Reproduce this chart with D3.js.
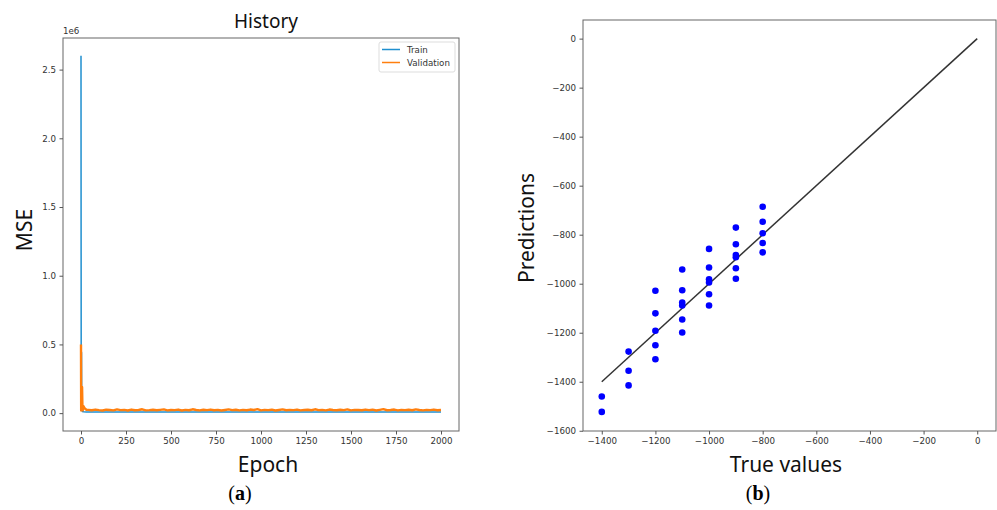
<!DOCTYPE html>
<html>
<head>
<meta charset="utf-8">
<script src="https://cdn.jsdelivr.net/npm/d3@7"></script>
<style>
  body { margin: 0; background: #fff; }
  svg { display: block; }
  .tick text { font-family: "DejaVu Sans", sans-serif; font-size: 8.7px; fill: #333; }
  .tick line { stroke: #555; }
  .lbl { font-family: "Noto Sans", sans-serif; fill: #111; }
  .cap { font-family: "Liberation Serif", serif; font-size: 20px; fill: #000; }
</style>
</head>
<body>
<svg id="chart" width="997" height="510"></svg>
<script>
// ---- panel (a): training history, MSE in units of 1e6 ----
let trainEpoch = [0, 1, 3, 4, 5, 8, 15, 30, 100, 500, 1000, 1500, 2000],
    trainMse = [2.6, 0.45, 0.44, 0.06, 0.02, 0.012, 0.010, 0.009, 0.0085, 0.008, 0.0078, 0.0076, 0.0075];

let valEarlyEpoch = [0, 1, 2, 4, 6, 8, 10, 14, 20, 30],
    valEarlyMse = [0.5, 0.02, 0.03, 0.06, 0.19, 0.04, 0.02, 0.05, 0.035, 0.025];

// validation loss sampled every 20 epochs from 40 to 2000
let valMse = [
  0.024,0.021,0.026,0.022,0.019,0.025,0.023,0.020,0.027,0.022,
  0.024,0.019,0.026,0.021,0.023,0.028,0.020,0.022,0.025,0.021,
  0.024,0.027,0.020,0.023,0.022,0.026,0.019,0.024,0.021,0.028,
  0.023,0.020,0.025,0.022,0.026,0.021,0.024,0.019,0.023,0.027,
  0.022,0.025,0.020,0.024,0.021,0.026,0.023,0.029,0.020,0.024,
  0.022,0.025,0.019,0.023,0.027,0.021,0.024,0.022,0.026,0.020,
  0.023,0.025,0.021,0.028,0.022,0.024,0.020,0.026,0.023,0.021,
  0.025,0.022,0.027,0.020,0.024,0.023,0.021,0.026,0.022,0.025,
  0.019,0.024,0.029,0.021,0.023,0.026,0.020,0.024,0.022,0.025,
  0.021,0.027,0.023,0.020,0.024,0.022,0.026,0.021,0.023
];

let epochTicks = [0, 250, 500, 750, 1000, 1250, 1500, 1750, 2000],
    mseTicks = [0, 0.5, 1.0, 1.5, 2.0, 2.5],
    legendNames = ["Train", "Validation"];

// ---- panel (b): predictions vs true values ----
let trueVals = [
  -1400, -1400,
  -1300, -1300, -1300,
  -1200, -1200, -1200, -1200, -1200,
  -1100, -1100, -1100, -1100, -1100, -1100,
  -1000, -1000, -1000, -1000, -1000, -1000,
  -900, -900, -900, -900, -900, -900,
  -800, -800, -800, -800, -800
];
let predVals = [
  -1460, -1523,
  -1277, -1355, -1415,
  -1029, -1121, -1192, -1251, -1308,
  -942, -1027, -1077, -1089, -1146, -1199,
  -858, -934, -982, -995, -1043, -1089,
  -771, -839, -883, -892, -937, -980,
  -686, -747, -794, -834, -872
];
let idealLine = [-1400, 0],
    trueTicks = [-1400, -1200, -1000, -800, -600, -400, -200, 0],
    predTicks = [-1600, -1400, -1200, -1000, -800, -600, -400, -200, 0];

let colors = {train: "#1f8fcf", val: "#ff7f0e"};
let svg = d3.select("#chart");
let fmtMinus = d => d3.format("d")(d).replace("-", "\u2212");

function box(g, x, y) {
  let [x0, x1] = x.range(), [y0, y1] = y.range();
  g.append("rect")
    .attr("x", x0).attr("y", y1)
    .attr("width", x1 - x0).attr("height", y0 - y1)
    .attr("fill", "none").attr("stroke", "#666").attr("stroke-width", 1);
}

function axes(g, x, y, xt, yt, xf, yf) {
  g.append("g")
    .attr("transform", `translate(0,${y.range()[0]})`)
    .call(d3.axisBottom(x).tickValues(xt).tickFormat(xf).tickSize(3.5).tickPadding(3.5))
    .call(a => a.select(".domain").remove());
  g.append("g")
    .attr("transform", `translate(${x.range()[0]},0)`)
    .call(d3.axisLeft(y).tickValues(yt).tickFormat(yf).tickSize(3.5).tickPadding(3.5))
    .call(a => a.select(".domain").remove());
}

function drawHistory() {
  let x = d3.scaleLinear().domain([-100, 2100]).range([63, 459]),
      y = d3.scaleLinear().domain([-0.13, 2.73]).range([431, 38]);
  let g = svg.append("g");

  let line = d3.line().x(d => x(d[0])).y(d => y(d[1]));
  let train = trainEpoch.map((e, i) => [e, trainMse[i]]);
  let val = valEarlyEpoch.map((e, i) => [e, valEarlyMse[i]])
    .concat(valMse.map((v, i) => [40 + i * 20, v]));

  g.append("path").datum(train).attr("d", line)
    .attr("fill", "none").attr("stroke", colors.train).attr("stroke-width", 1.5);
  g.append("path").datum(val).attr("d", line)
    .attr("fill", "none").attr("stroke", colors.val).attr("stroke-width", 2.4)
    .attr("stroke-linejoin", "round");

  box(g, x, y);
  axes(g, x, y, epochTicks, mseTicks, d3.format("d"), d3.format(".1f"));

  g.append("text").attr("x", 63).attr("y", 34)
    .style("font-family", "DejaVu Sans").style("font-size", "8.7px").style("fill", "#333")
    .text("1e6");

  g.append("text").attr("class", "lbl")
    .attr("x", 266).attr("y", 28).attr("text-anchor", "middle")
    .style("font-size", "19px").text("History");
  g.append("text").attr("class", "lbl")
    .attr("x", 268).attr("y", 472).attr("text-anchor", "middle")
    .style("font-size", "21px").text("Epoch");
  g.append("text").attr("class", "lbl")
    .attr("transform", "translate(32,230) rotate(-90)").attr("text-anchor", "middle")
    .style("font-size", "21px").text("MSE");

  // legend
  let lg = g.append("g").attr("transform", "translate(379,42)");
  lg.append("rect").attr("width", 76).attr("height", 30).attr("rx", 2)
    .attr("fill", "#fff").attr("stroke", "#ddd");
  legendNames.forEach((n, i) => {
    lg.append("line")
      .attr("x1", 3).attr("x2", 21).attr("y1", 7.5 + i * 13).attr("y2", 7.5 + i * 13)
      .attr("stroke", i ? colors.val : colors.train).attr("stroke-width", 1.5);
    lg.append("text").attr("x", 28).attr("y", 10.5 + i * 13)
      .style("font-family", "DejaVu Sans").style("font-size", "8.7px").style("fill", "#333")
      .text(n);
  });

  g.append("text").attr("class", "cap").attr("x", 240).attr("y", 500).attr("text-anchor", "middle")
    .html("(<tspan font-weight='bold'>a</tspan>)");
}

function drawScatter() {
  let x = d3.scaleLinear().domain([-1470, 70]).range([583, 996]),
      y = d3.scaleLinear().domain([-1601, 76]).range([431, 20]);
  let g = svg.append("g");

  g.append("line")
    .attr("x1", x(idealLine[0])).attr("y1", y(idealLine[0]))
    .attr("x2", x(idealLine[1])).attr("y2", y(idealLine[1]))
    .attr("stroke", "#333").attr("stroke-width", 1.5);

  g.selectAll("circle").data(trueVals).enter()
    .append("circle")
    .attr("cx", d => x(d))
    .attr("cy", (d, i) => y(predVals[i]))
    .attr("r", 3.3)
    .attr("fill", "#0000ff");

  box(g, x, y);
  axes(g, x, y, trueTicks, predTicks, fmtMinus, fmtMinus);

  g.append("text").attr("class", "lbl")
    .attr("x", 786).attr("y", 472).attr("text-anchor", "middle")
    .style("font-size", "21px").text("True values");
  g.append("text").attr("class", "lbl")
    .attr("transform", "translate(534,228) rotate(-90)").attr("text-anchor", "middle")
    .style("font-size", "21px").text("Predictions");

  g.append("text").attr("class", "cap").attr("x", 758).attr("y", 500).attr("text-anchor", "middle")
    .html("(<tspan font-weight='bold'>b</tspan>)");
}

drawHistory();
drawScatter();
</script>
</body>
</html>
